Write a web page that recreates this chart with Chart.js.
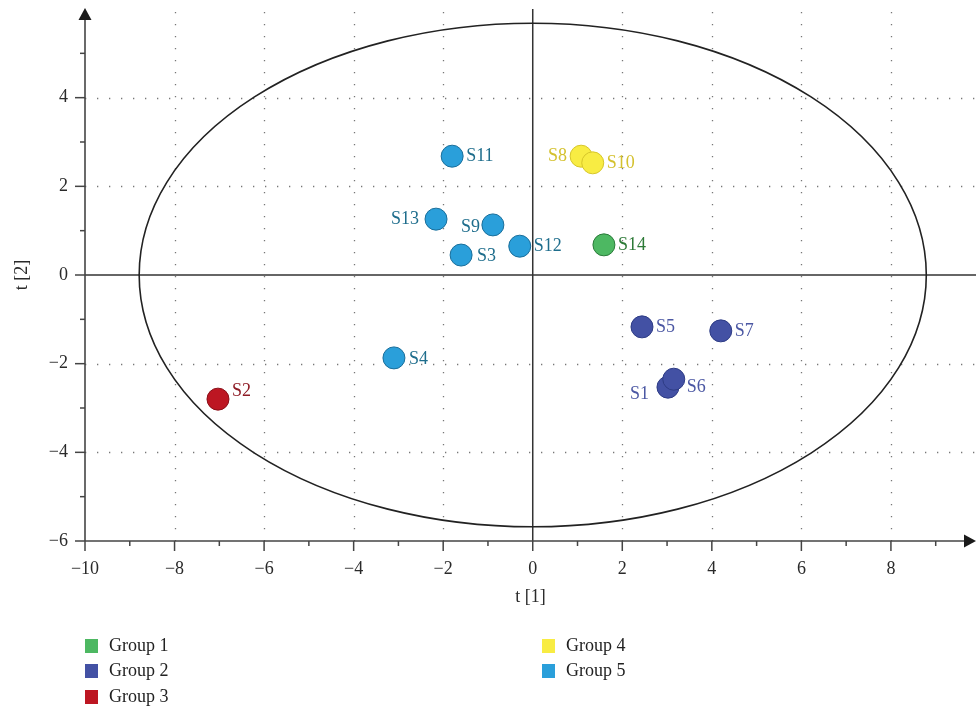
<!DOCTYPE html>
<html>
<head>
<meta charset="utf-8">
<script src="https://cdn.jsdelivr.net/npm/chart.js@4.4.1/dist/chart.umd.min.js"></script>
<style>
    body { margin: 0; background: #fff; overflow: hidden; }
    #wrap { position: relative; width: 976px; height: 709px; }
    #scoreChart { display: block; }
    #legend { position: absolute; left: 0; top: 0; width: 976px; height: 709px; pointer-events: none;
        font-family: "Liberation Serif", "DejaVu Serif", serif; font-size: 18px; color: #222; }
    .item { position: absolute; height: 20px; line-height: 20px; white-space: nowrap; }
    .item span.box { display: inline-block; width: 13px; height: 14px; vertical-align: -2px; margin-right: 11px; }
</style>
</head>
<body>
<div id="wrap">
    <canvas id="scoreChart" width="976" height="709"></canvas>
    <div id="legend"></div>
</div>
<script>
// groups
var groupNames = ['Group 1', 'Group 2', 'Group 3', 'Group 4', 'Group 5'];
var groupColors = ['#4db862', '#4351a4', '#bd1622', '#f8ec43', '#2a9fda'];
var groupBorders = ['#2b7a3a', '#2e3c85', '#8a0f18', '#d6c62a', '#1a6e9a'];
var labelColors = ['#2d7a37', '#4b57a3', '#8e1b25', '#d4c12e', '#1e6d8c'];

// samples (score plot t[1] / t[2])
var sampleNames = ['S1', 'S2', 'S3', 'S4', 'S5', 'S6', 'S7', 'S8', 'S9', 'S10', 'S11', 'S12', 'S13', 'S14'];
var sampleGroup = [2, 3, 5, 5, 2, 2, 2, 4, 5, 4, 5, 5, 5, 1];
var t1 = [3.02, -7.03, -1.60, -3.10, 2.44, 3.15, 4.20, 1.08, -0.89, 1.34, -1.80, -0.29, -2.16, 1.59];
var t2 = [-2.53, -2.80, 0.45, -1.87, -1.17, -2.35, -1.26, 2.68, 1.13, 2.53, 2.68, 0.65, 1.26, 0.68];

// axis ticks
var xTicks = [-10, -8, -6, -4, -2, 0, 2, 4, 6, 8];
var yTicks = [-6, -4, -2, 0, 2, 4];

// Hotelling T2 ellipse semi-axes
var ellipseA = 8.79;
var ellipseB = 5.68;

var FONT = '"Liberation Serif", "DejaVu Serif", serif';

function fmt(v) {
    return v < 0 ? '\u2212' + Math.abs(v) : String(v);
}

var datasets = groupNames.map(function (name, g) {
    var pts = [];
    sampleNames.forEach(function (s, i) {
        if (sampleGroup[i] === g + 1) pts.push({ x: t1[i], y: t2[i], name: s });
    });
    return {
        label: name,
        data: pts,
        backgroundColor: groupColors[g],
        borderColor: groupBorders[g],
        borderWidth: 1,
        pointRadius: 11,
        pointHoverRadius: 11
    };
});

// label placement tweaks: [dx, dy, align]
var labelPos = {
    S1: [-19, 7, 'right'], S2: [14, -8, 'left'], S6: [13, 8, 'left'],
    S8: [-14, 0, 'right'], S9: [-13, 2, 'right'], S13: [-17, 0, 'right'],
    S3: [16, 1, 'left'], S4: [15, 1, 'left']
};

var decor = {
    id: 'decor',
    beforeDatasetsDraw: function (chart) {
        var c = chart.ctx, xs = chart.scales.x, ys = chart.scales.y, a = chart.chartArea;
        c.save();
        // dotted grid
        c.strokeStyle = '#777';
        c.lineWidth = 1.3;
        c.setLineDash([1.3, 10.7]);
        xTicks.forEach(function (v) {
            if (v === 0 || v === xs.min) return;
            var px = Math.round(xs.getPixelForValue(v)) + 0.5;
            c.beginPath(); c.moveTo(px, a.top + 3); c.lineTo(px, a.bottom); c.stroke();
        });
        yTicks.forEach(function (v) {
            if (v === 0 || v === ys.min) return;
            var py = Math.round(ys.getPixelForValue(v)) + 0.5;
            c.beginPath(); c.moveTo(a.left, py); c.lineTo(a.right, py); c.stroke();
        });
        c.setLineDash([]);
        // origin lines
        c.strokeStyle = '#333';
        c.lineWidth = 1.5;
        var x0 = xs.getPixelForValue(0), y0 = ys.getPixelForValue(0);
        c.beginPath(); c.moveTo(x0, a.top); c.lineTo(x0, a.bottom); c.stroke();
        c.beginPath(); c.moveTo(a.left, y0); c.lineTo(a.right, y0); c.stroke();
        // ellipse
        c.strokeStyle = '#222';
        c.lineWidth = 1.6;
        var rx = xs.getPixelForValue(ellipseA) - x0;
        var ry = y0 - ys.getPixelForValue(ellipseB);
        c.beginPath(); c.ellipse(x0, y0, rx, ry, 0, 0, Math.PI * 2); c.stroke();
        // tick marks
        c.strokeStyle = '#444';
        c.lineWidth = 1.5;
        for (var v = -10; v <= 9; v++) {
            var px = xs.getPixelForValue(v);
            var len = (v % 2 === 0) ? 10 : 5;
            c.beginPath(); c.moveTo(px, a.bottom); c.lineTo(px, a.bottom + len); c.stroke();
        }
        for (var w = -6; w <= 5; w++) {
            var py = ys.getPixelForValue(w);
            var l2 = (w % 2 === 0) ? 10 : 5;
            c.beginPath(); c.moveTo(a.left - l2, py); c.lineTo(a.left, py); c.stroke();
        }
        // axes with arrows
        c.strokeStyle = '#444';
        c.lineWidth = 1.6;
        c.beginPath(); c.moveTo(a.left, a.bottom); c.lineTo(a.left, a.top + 8); c.stroke();
        c.beginPath(); c.moveTo(a.left, a.bottom); c.lineTo(a.right - 8, a.bottom); c.stroke();
        c.fillStyle = '#1a1a1a';
        c.beginPath();
        c.moveTo(a.left, a.top - 1); c.lineTo(a.left - 6.5, a.top + 11); c.lineTo(a.left + 6.5, a.top + 11);
        c.closePath(); c.fill();
        c.beginPath();
        c.moveTo(a.right, a.bottom); c.lineTo(a.right - 12, a.bottom - 6.5); c.lineTo(a.right - 12, a.bottom + 6.5);
        c.closePath(); c.fill();
        c.restore();
    },
    afterDatasetsDraw: function (chart) {
        var c = chart.ctx, xs = chart.scales.x, ys = chart.scales.y;
        c.save();
        c.font = '18px ' + FONT;
        c.textBaseline = 'middle';
        sampleNames.forEach(function (s, i) {
            var p = labelPos[s] || [14, 0, 'left'];
            c.fillStyle = labelColors[sampleGroup[i] - 1];
            c.textAlign = p[2];
            c.fillText(s, xs.getPixelForValue(t1[i]) + p[0], ys.getPixelForValue(t2[i]) + p[1]);
        });
        c.restore();
    }
};

var ctx = document.getElementById('scoreChart').getContext('2d');
var scoreChart = new Chart(ctx, {
    type: 'scatter',
    data: { datasets: datasets },
    options: {
        responsive: false,
        animation: false,
        layout: { autoPadding: false, padding: { top: 9, bottom: 93, left: 0, right: 0 } },
        plugins: {
            legend: { display: false },
            tooltip: { enabled: false }
        },
        scales: {
            x: {
                min: -10,
                max: 9.9,
                grid: { display: false, drawTicks: false },
                border: { display: false },
                afterBuildTicks: function (s) { s.ticks = xTicks.map(function (v) { return { value: v }; }); },
                afterFit: function (s) { s.height = 75; s.paddingLeft = 0; s.paddingRight = 0; },
                ticks: {
                    padding: 17,
                    maxRotation: 0,
                    color: '#2a2a2a',
                    font: { family: FONT, size: 18 },
                    callback: function (v) { return fmt(v); }
                },
                title: {
                    display: true,
                    text: 't [1]',
                    color: '#2a2a2a',
                    font: { family: FONT, size: 18 },
                    padding: { top: 0, bottom: 8 }
                }
            },
            y: {
                min: -6,
                max: 6,
                grid: { display: false, drawTicks: false },
                border: { display: false },
                afterBuildTicks: function (s) { s.ticks = yTicks.map(function (v) { return { value: v }; }); },
                afterFit: function (s) { s.width = 85; s.paddingTop = 0; s.paddingBottom = 0; },
                ticks: {
                    padding: 17,
                    color: '#2a2a2a',
                    font: { family: FONT, size: 18 },
                    callback: function (v) { return fmt(v); }
                },
                title: {
                    display: true,
                    text: 't [2]',
                    color: '#2a2a2a',
                    font: { family: FONT, size: 18 },
                    padding: { top: 11, bottom: 0 }
                }
            }
        }
    },
    plugins: [decor]
});

// legend in two columns, like the original figure
var legendSpots = [[85, 635], [85, 660], [85, 686], [542, 635], [542, 660]];
var legend = document.getElementById('legend');
groupNames.forEach(function (name, g) {
    var d = document.createElement('div');
    d.className = 'item';
    d.style.left = legendSpots[g][0] + 'px';
    d.style.top = legendSpots[g][1] + 'px';
    d.innerHTML = '<span class="box" style="background:' + groupColors[g] + '"></span>' + name;
    legend.appendChild(d);
});
</script>
</body>
</html>
